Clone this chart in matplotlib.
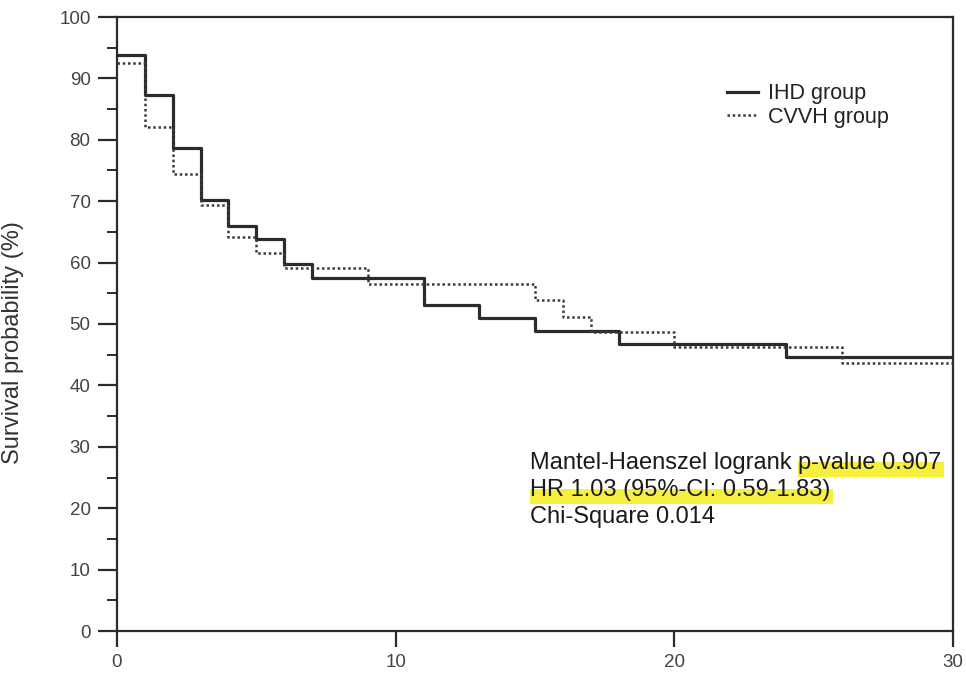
import matplotlib
matplotlib.use("Agg")
import matplotlib.pyplot as plt
from matplotlib.patches import Rectangle
from matplotlib.transforms import IdentityTransform

plt.rcParams['font.family'] = ['Liberation Sans', 'DejaVu Sans']

# step data (time, survival %)
ihd_t = [0, 1, 2, 3, 4, 5, 6, 7, 11, 13, 15, 18, 24, 30]
ihd_s = [93.8, 87.3, 78.7, 70.2, 66.0, 63.8, 59.7, 57.5, 53.1, 51.0, 48.9, 46.8, 44.7, 44.7]

cvvh_t = [0, 1, 2, 3, 4, 5, 6, 9, 15, 16, 17, 20, 26, 30]
cvvh_s = [92.5, 82.1, 74.4, 69.4, 64.2, 61.6, 59.1, 56.5, 53.9, 51.1, 48.7, 46.3, 43.6, 43.6]

labels = ["IHD group", "CVVH group"]
xticks = [0, 10, 20, 30]
yticks = list(range(0, 101, 10))

dark = '#2b2b2b'
fig = plt.figure(figsize=(9.66, 6.74), dpi=100)
ax = fig.add_axes([117/966, 43/674, 836/966, 614/674])

ax.step(ihd_t, ihd_s, where='post', color=dark, lw=2.3, label=labels[0], zorder=3)
ax.step(cvvh_t, cvvh_s, where='post', color='#3a3a3a', lw=1.8,
        linestyle=(0, (1, 1.1)), label=labels[1], zorder=3)

ax.set_xlim(0, 30)
ax.set_ylim(0, 100)
ax.set_xticks(xticks)
ax.set_yticks(yticks)
ax.set_yticks(list(range(5, 100, 10)), minor=True)

for s in ax.spines.values():
    s.set_color(dark)
    s.set_linewidth(1.6)

ax.tick_params(axis='both', which='major', direction='out', color=dark, width=1.6,
               labelsize=13.5, labelcolor='#444444')
ax.tick_params(axis='y', which='major', length=13.5, pad=5.5)
ax.tick_params(axis='y', which='minor', length=7, width=1.4, color=dark)
ax.tick_params(axis='x', which='major', length=11.5, pad=5)

ax.set_ylabel("Survival probability (%)", fontsize=17, color='#333333')
ax.yaxis.set_label_coords(-0.111, 0.47)

leg = ax.legend(loc='upper left', bbox_to_anchor=(0.73, 0.892), frameon=False,
                fontsize=15.5, handlelength=1.45, handletextpad=0.45, labelspacing=0.12,
                borderpad=0, borderaxespad=0)
for txt in leg.get_texts():
    txt.set_color('#222222')

# statistics text block
fs = 17
tx = 14.82
t1 = ax.text(tx, 26.4, "Mantel-Haenszel logrank ", fontsize=fs, color='#1a1a1a',
             va='baseline', zorder=5)
t_p = ax.annotate("p-value 0.907", xy=(1, 0), xycoords=t1, va='bottom',
                  fontsize=fs, color='#1a1a1a', zorder=5)
t_hr = ax.text(tx, 22.0, "HR 1.03 (95%-CI: 0.59-1.83)", fontsize=fs, color='#1a1a1a',
               va='baseline', zorder=5)
ax.text(tx, 17.6, "Chi-Square 0.014", fontsize=fs, color='#1a1a1a', va='baseline', zorder=5)

# yellow highlighter marks behind parts of the text
fig.canvas.draw()
r = fig.canvas.get_renderer()
for t, ybase in ((t_p, 26.4), (t_hr, 22.0)):
    bb = t.get_window_extent(r)
    base_px = ax.transData.transform((tx, ybase))[1]
    hl = Rectangle((bb.x0, base_px - 8), bb.width + 3, 15, transform=IdentityTransform(),
                   facecolor='#f6f03c', edgecolor='none', zorder=1.5)
    ax.add_artist(hl)

fig.savefig("out.png", dpi=100)
